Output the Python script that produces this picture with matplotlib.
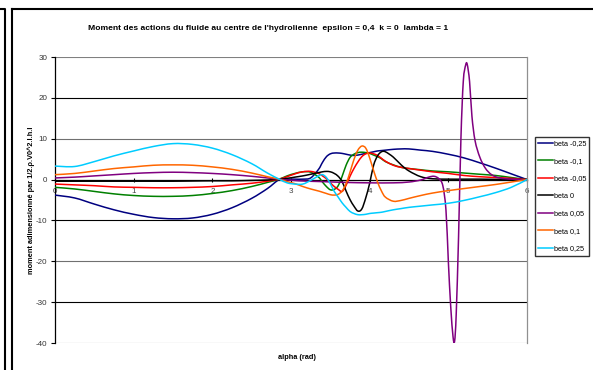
import numpy as np
import matplotlib
matplotlib.use("Agg")
import matplotlib.pyplot as plt
from matplotlib.path import Path
from matplotlib.patches import PathPatch
from matplotlib.lines import Line2D

plt.rcParams['font.family'] = ['Liberation Sans', 'DejaVu Sans']

# ---- data -------------------------------------------------------------
alpha = [0, 0.25, 0.5, 0.75, 1.0, 1.25, 1.5, 1.75, 2.0, 2.25, 2.5, 2.7, 2.85,
         2.95, 3.05, 3.15, 3.25, 3.35, 3.4, 3.45, 3.5, 3.55, 3.6, 3.65, 3.7,
         3.75, 3.8, 3.85, 3.9, 3.95, 4.0, 4.05, 4.1, 4.15, 4.2, 4.3, 4.4, 4.5,
         4.65, 4.8, 5.0, 5.2, 5.4, 5.6, 5.8, 6.0]

beta_m025 = [-3.8, -4.5, -6.0, -7.4, -8.5, -9.3, -9.6, -9.4, -8.5, -6.9, -4.6, -2.2, 0.0,
             0.1, 0.1, 0.1, 0.4, 2.5, 4.2, 5.6, 6.3, 6.5, 6.5, 6.4, 6.2,
             6.0, 5.9, 6.0, 6.2, 6.4, 6.6, 6.8, 7.0, 7.1, 7.2, 7.4, 7.5, 7.5,
             7.2, 6.9, 6.2, 5.3, 4.1, 2.8, 1.4, 0.0]

beta_m01 = [-1.9, -2.3, -2.9, -3.5, -3.9, -4.1, -4.1, -3.9, -3.4, -2.7, -1.7, -0.7, 0.1,
            0.9, 1.5, 1.9, 1.8, 0.6, -0.6, -1.7, -2.5, -2.4, -1.5, 0.8, 3.5,
            5.4, 6.2, 6.6, 6.7, 6.6, 6.4, 6.0, 5.6, 5.1, 4.4, 3.6, 3.0, 2.7,
            2.4, 2.1, 1.9, 1.6, 1.3, 1.0, 0.5, 0.0]

beta_m005 = [-1.1, -1.3, -1.5, -1.8, -1.9, -2.0, -2.0, -1.9, -1.7, -1.3, -0.9, -0.4, 0.1,
             0.7, 1.4, 1.9, 2.0, 1.5, 0.9, 0.2, -0.8, -1.7, -2.4, -2.9, -1.4,
             0.8, 2.7, 4.3, 5.6, 6.3, 6.5, 6.3, 5.9, 5.2, 4.5, 3.5, 3.0, 2.7,
             2.3, 1.9, 1.5, 1.0, 0.7, 0.5, 0.3, 0.0]

beta_0 = [-0.4, -0.4, -0.4, -0.4, -0.4, -0.4, -0.4, -0.35, -0.3, -0.3, -0.2, -0.1, 0.1,
          0.3, 0.6, 0.9, 1.3, 1.7, 1.9, 2.0, 1.9, 1.5, 0.8, -0.5, -2.8,
          -4.9, -6.5, -7.7, -7.2, -4.5, -0.9, 3.5, 5.8, 6.8, 6.8, 5.5, 3.6, 2.1,
          0.7, 0.2, 0.1, 0.1, 0.1, 0.05, 0.0, 0.0]

beta_01 = [1.2, 1.5, 2.1, 2.7, 3.1, 3.5, 3.6, 3.5, 3.1, 2.5, 1.6, 0.7, 0.1,
           -0.5, -1.0, -1.7, -2.3, -2.8, -3.1, -3.4, -3.7, -3.8, -3.6, -2.8, -1.0,
           1.8, 4.9, 7.2, 8.2, 7.7, 5.3, 2.2, -0.6, -2.8, -4.3, -5.3, -5.1, -4.6,
           -3.9, -3.3, -2.7, -2.2, -1.7, -1.2, -0.6, 0.0]

beta_025 = [3.3, 3.2, 4.4, 5.8, 7.0, 8.1, 8.8, 8.6, 7.7, 6.1, 3.9, 1.6, 0.1,
            -0.8, -1.1, -1.1, -0.2, 0.9, 1.2, 0.5, -1.0, -2.9, -4.3, -5.7, -6.8,
            -7.8, -8.3, -8.6, -8.6, -8.5, -8.3, -8.2, -8.1, -8.0, -7.8, -7.4, -7.1, -6.8,
            -6.5, -6.2, -5.8, -5.1, -4.2, -3.2, -1.9, 0.0]

alpha_p = [0, 0.25, 0.5, 0.75, 1.0, 1.25, 1.5, 1.75, 2.0, 2.25, 2.5, 2.7, 2.85,
           3.1, 3.4, 3.7, 4.0, 4.3, 4.5, 4.65, 4.75, 4.82, 4.88, 4.93, 4.97,
           5.0, 5.03, 5.06, 5.08, 5.1, 5.13, 5.16, 5.19, 5.22, 5.24, 5.27, 5.3,
           5.34, 5.4, 5.47, 5.55, 5.65, 5.8, 6.0]

beta_005 = [0.4, 0.6, 0.9, 1.2, 1.5, 1.7, 1.8, 1.7, 1.5, 1.2, 0.8, 0.4, 0.1,
            -0.3, -0.5, -0.7, -0.8, -0.8, -0.6, -0.1, 0.6, 0.8, 0.2, -1.5, -7.5,
            -20.0, -31.0, -38.5, -39.5, -33.0, -14.0, 10.0, 24.0, 28.0, 28.2, 24.0, 15.5,
            9.5, 5.5, 2.8, 1.2, 0.4, 0.1, 0.0]

labels = ["beta -0,25", "beta -0,1", "beta -0,05", "beta 0",
          "beta 0,05", "beta 0,1", "beta 0,25"]
colors = ["#000080", "#008000", "#ff0000", "#000000",
          "#800080", "#ff6600", "#00ccff"]

series = [(alpha, beta_m025), (alpha, beta_m01), (alpha, beta_m005),
          (alpha, beta_0), (alpha_p, beta_005), (alpha, beta_01),
          (alpha, beta_025)]

y_ticks = [-40, -30, -20, -10, 0, 10, 20, 30]
x_ticks = [0, 1, 2, 3, 4, 5, 6]


def smooth_path(x, y):
    """Catmull-Rom curve through the points, as cubic Bezier segments."""
    pts = np.column_stack([x, y]).astype(float)
    n = len(pts)
    verts = [pts[0]]
    codes = [Path.MOVETO]
    for i in range(n - 1):
        p0 = pts[i - 1] if i > 0 else pts[i]
        p1 = pts[i]
        p2 = pts[i + 1]
        p3 = pts[i + 2] if i + 2 < n else pts[i + 1]
        verts += [p1 + (p2 - p0) / 6.0, p2 - (p3 - p1) / 6.0, p2]
        codes += [Path.CURVE4] * 3
    return Path(verts, codes)


W, H = 593, 370
fig = plt.figure(figsize=(W / 100, H / 100), dpi=100)

# chart area borders
def fig_line(xs, ys, lw=1.5, color="black"):
    fig.add_artist(Line2D([v / W for v in xs], [1 - v / H for v in ys],
                          transform=fig.transFigure, color=color, lw=lw))

fig_line([0, 5, 5], [9, 9, 370])
fig_line([12, 12], [370, 9])
fig_line([12, 593], [9, 9])

L, R, T, B = 55, 527, 57, 343
ax = fig.add_axes([L / W, 1 - B / H, (R - L) / W, (B - T) / H])

ax.set_xlim(0, 6)
ax.set_ylim(-40, 30)

# horizontal gridlines
grid_cols = {30: "#808080", 20: "#000000", 10: "#707070", -10: "#000000",
             -20: "#707070", -30: "#000000", -40: "#808080"}
for yv, c in grid_cols.items():
    ax.axhline(yv, color=c, lw=0.8, zorder=1)

for (xs, ys), c in zip(series, colors):
    ax.add_patch(PathPatch(smooth_path(xs, ys), fill=False, edgecolor=c,
                           lw=1.1, zorder=3, capstyle='round', joinstyle='round'))

# spines: y axis black on the left, x axis through zero
ax.spines['left'].set_color('black')
ax.spines['left'].set_linewidth(0.9)
ax.spines['top'].set_visible(False)
ax.spines['right'].set_color('#909090')
ax.spines['right'].set_linewidth(0.9)
ax.spines['bottom'].set_position(('data', 0))
ax.spines['bottom'].set_color('black')
ax.spines['bottom'].set_linewidth(0.9)
ax.spines['bottom'].set_zorder(2)

ax.set_yticks(y_ticks)
ax.set_yticklabels([str(v) for v in y_ticks])
ax.set_xticks(x_ticks)
ax.set_xticklabels([str(v) for v in x_ticks])
ax.tick_params(axis='y', direction='out', length=3, width=0.8, pad=2.5,
               labelsize=5.8, colors='black', labelcolor='#333333')
ax.tick_params(axis='x', direction='inout', length=3, width=0.8, pad=4.5,
               labelsize=5.8, colors='black', labelcolor='#444444')

ax.set_xlabel("alpha (rad)", fontsize=5.3, fontweight='bold')
ax.xaxis.set_label_coords(0.513, -0.04)
ax.set_ylabel("moment adimensionné par 1/2.ρ.V0^2.l.h.l", fontsize=5.3,
              fontweight='bold')
ax.yaxis.set_label_coords(-0.043, 0.5)

fig.text(268 / W, 1 - 28 / H,
         "Moment des actions du fluide au centre de l'hydrolienne  epsilon = 0,4  k = 0  lambda = 1",
         ha='center', va='center', fontsize=6.1, fontweight='bold')

handles = [Line2D([], [], color=c, lw=1.1) for c in colors]
leg = ax.legend(handles, labels, loc='upper left',
                bbox_to_anchor=(535 / W, 1 - 137 / H),
                bbox_transform=fig.transFigure, fontsize=5.2,
                frameon=True, fancybox=False, edgecolor='black',
                handlelength=2.0, handletextpad=0.15, labelspacing=1.45,
                borderpad=0.45, borderaxespad=0)
leg.get_frame().set_linewidth(1.0)

fig.savefig("out.png", dpi=100)
